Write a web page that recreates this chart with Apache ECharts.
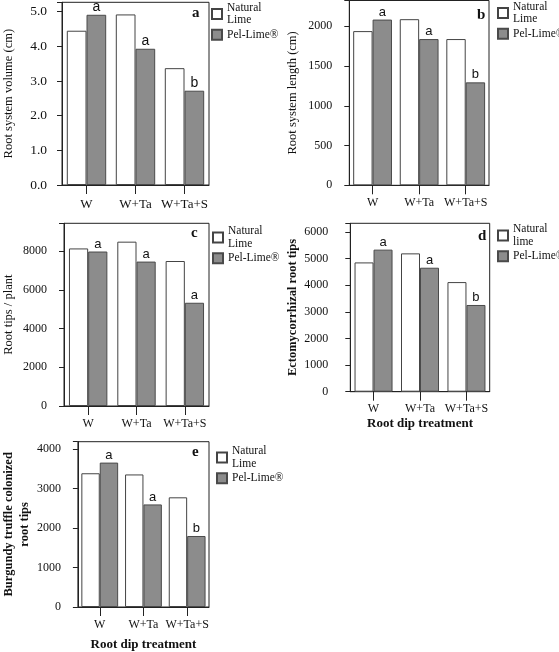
<!DOCTYPE html>
<html>
<head>
<meta charset="utf-8">
<script src="https://cdn.jsdelivr.net/npm/echarts@6/dist/echarts.min.js"></script>
<style>
  html, body { margin: 0; padding: 0; background: #fff; }
  #chart { width: 559px; height: 652px; }
</style>
</head>
<body>
<div id="chart"></div>
<script>
// ---------- data ----------
const categories = ['W', 'W+Ta', 'W+Ta+S'];

const volumeNatural = [4.45, 4.92, 3.37];
const volumePel     = [4.91, 3.93, 2.72];
const volumeSig     = ['a', 'a', 'b'];

const lengthNatural = [1940, 2090, 1840];
const lengthPel     = [2085, 1840, 1295];
const lengthSig     = ['a', 'a', 'b'];

const tipsNatural = [8150, 8500, 7500];
const tipsPel     = [7990, 7470, 5340];
const tipsSig     = ['a', 'a', 'a'];

const ectoNatural = [4860, 5200, 4120];
const ectoPel     = [5340, 4660, 3260];
const ectoSig     = ['a', 'a', 'b'];

const truffleNatural = [3390, 3360, 2780];
const trufflePel     = [3660, 2600, 1800];
const truffleSig     = ['a', 'a', 'b'];

const volumeTicks  = [0, 1, 2, 3, 4, 5];
const lengthTicks  = [0, 500, 1000, 1500, 2000];
const tipsTicks    = [0, 2000, 4000, 6000, 8000];
const ectoTicks    = [0, 1000, 2000, 3000, 4000, 5000, 6000];
const truffleTicks = [0, 1000, 2000, 3000, 4000];

const panels = [
  { letter: 'a', yName: 'Root system volume (cm)', nat: volumeNatural, pel: volumePel, sig: volumeSig, ticks: volumeTicks, dec: 1, natName: 'Natural\nLime', xName: '' },
  { letter: 'b', yName: 'Root system length (cm)', nat: lengthNatural, pel: lengthPel, sig: lengthSig, ticks: lengthTicks, dec: 0, natName: 'Natural\nLime', xName: '' },
  { letter: 'c', yName: 'Root tips / plant', nat: tipsNatural, pel: tipsPel, sig: tipsSig, ticks: tipsTicks, dec: 0, natName: 'Natural\nLime', xName: '' },
  { letter: 'd', yName: 'Ectomycorrhizal root tips', nat: ectoNatural, pel: ectoPel, sig: ectoSig, ticks: ectoTicks, dec: 0, natName: 'Natural\nlime', xName: 'Root dip treatment' },
  { letter: 'e', yName: 'Burgundy truffle colonized\nroot tips', nat: truffleNatural, pel: trufflePel, sig: truffleSig, ticks: truffleTicks, dec: 0, natName: 'Natural\nLime', xName: 'Root dip treatment' }
];
const pelName = 'Pel-Lime®';

// ---------- layout / style ----------
const layout = [
  { left: 57,    top: 2.3,  width: 152,   height: 182.7, max: 5.27, barW: 19.7, yFs: 13.5, xFs: 13, nameFs: 12.5, bold: false, yGap: 45, yMargin: 15, xMargin: 13, xNameGap: 30, letterX: 192, letterY: 6,   legX: 211, legY: 1.5, sigFs: 14 },
  { left: 349.3, top: 0.5,  width: 139.7, height: 184.8, max: 2325, barW: 19.4, yFs: 12,   xFs: 12, nameFs: 12.5, bold: false, yGap: 49, yMargin: 17, xMargin: 12, xNameGap: 30, letterX: 477, letterY: 8,   legX: 497, legY: 0.5, sigFs: 13 },
  { left: 62.3,  top: 223.3,width: 146.7, height: 182.7, max: 9450, barW: 19.2, yFs: 12,   xFs: 12, nameFs: 12.5, bold: false, yGap: 47, yMargin: 17, xMargin: 12, xNameGap: 30, letterX: 191, letterY: 226, legX: 212, legY: 225, sigFs: 13 },
  { left: 350.3, top: 223.3,width: 139.4, height: 168.4, max: 6330, barW: 19,   yFs: 12,   xFs: 12, nameFs: 12.5, bold: true,  yGap: 50, yMargin: 22, xMargin: 11, xNameGap: 25, letterX: 478, letterY: 229, legX: 497, legY: 223, sigFs: 13 },
  { left: 73.7,  top: 441.7,width: 135.3, height: 166,   max: 4190, barW: 18.4, yFs: 12,   xFs: 12, nameFs: 12.5, bold: true,  yGap: 42, yMargin: 17, xMargin: 12, xNameGap: 31, letterX: 192, letterY: 445, legX: 216, legY: 445, sigFs: 13 }
];

const SERIF = 'Liberation Serif';
const SANS = 'Liberation Sans';
const NAT_STYLE = { color: '#ffffff', borderColor: '#444444', borderWidth: 1 };
const PEL_STYLE = { color: '#8c8c8c', borderColor: '#4a4a4a', borderWidth: 1 };

const option = {
  animation: false,
  backgroundColor: '#ffffff',
  grid: [], xAxis: [], yAxis: [], series: [], title: [], legend: []
};

panels.forEach((p, i) => {
  const L = layout[i];
  const interval = p.ticks[1] - p.ticks[0];
  option.grid.push({
    left: L.left, top: L.top, width: L.width, height: L.height,
    show: true, borderColor: '#222', borderWidth: 1, backgroundColor: 'transparent'
  });
  option.xAxis.push({
    gridIndex: i, type: 'category', data: categories,
    axisLine: { lineStyle: { color: '#222', width: 1 } },
    axisTick: { show: true, interval: 0, alignWithLabel: true, length: 9, lineStyle: { color: '#222' } },
    axisLabel: { interval: 0, hideOverlap: false, fontFamily: SERIF, fontSize: L.xFs, color: '#111', margin: L.xMargin },
    name: p.xName, nameLocation: 'middle', nameGap: L.xNameGap,
    nameTextStyle: { fontFamily: SERIF, fontSize: 13, fontWeight: 'bold', color: '#111' }
  });
  option.yAxis.push({
    gridIndex: i, type: 'value', min: p.ticks[0], max: L.max, interval: interval,
    axisLine: { show: true, lineStyle: { color: '#222', width: 1 } },
    axisTick: { show: true, length: 5, lineStyle: { color: '#222' } },
    splitLine: { show: false },
    axisLabel: {
      fontFamily: SERIF, fontSize: L.yFs, color: '#111', margin: L.yMargin,
      formatter: v => (p.ticks.indexOf(Math.round(v * 1000) / 1000) >= 0 ? v.toFixed(p.dec) : '')
    },
    name: p.yName, nameLocation: 'middle', nameRotate: 90, nameGap: L.yGap,
    nameTextStyle: { fontFamily: SERIF, fontSize: L.nameFs, fontWeight: L.bold ? 'bold' : 'normal', color: '#111', lineHeight: 16 }
  });
  option.series.push({
    type: 'bar', name: p.natName, xAxisIndex: i, yAxisIndex: i, data: p.nat,
    barWidth: L.barW, barGap: '0%', itemStyle: NAT_STYLE
  });
  option.series.push({
    type: 'bar', name: pelName, xAxisIndex: i, yAxisIndex: i, data: p.pel,
    barWidth: L.barW, barGap: '0%', itemStyle: PEL_STYLE,
    label: {
      show: true, position: 'top', distance: 1,
      fontFamily: SANS, fontSize: L.sigFs, color: '#111',
      formatter: params => p.sig[params.dataIndex]
    }
  });
  option.title.push({
    text: p.letter, left: L.letterX, top: L.letterY, padding: 0,
    textStyle: { fontFamily: SERIF, fontSize: 15, fontWeight: 'bold', color: '#111' }
  });
  option.legend.push({
    data: [p.natName, pelName], orient: 'vertical', left: L.legX, top: L.legY,
    padding: 0, itemGap: 2, itemWidth: 10, itemHeight: 10, icon: 'rect',
    selectedMode: false,
    textStyle: { fontFamily: SERIF, fontSize: 11.5, color: '#111', lineHeight: 12.5 }
  });
});

const chart = echarts.init(document.getElementById('chart'), null, { renderer: 'canvas' });
chart.setOption(option);
</script>
</body>
</html>
